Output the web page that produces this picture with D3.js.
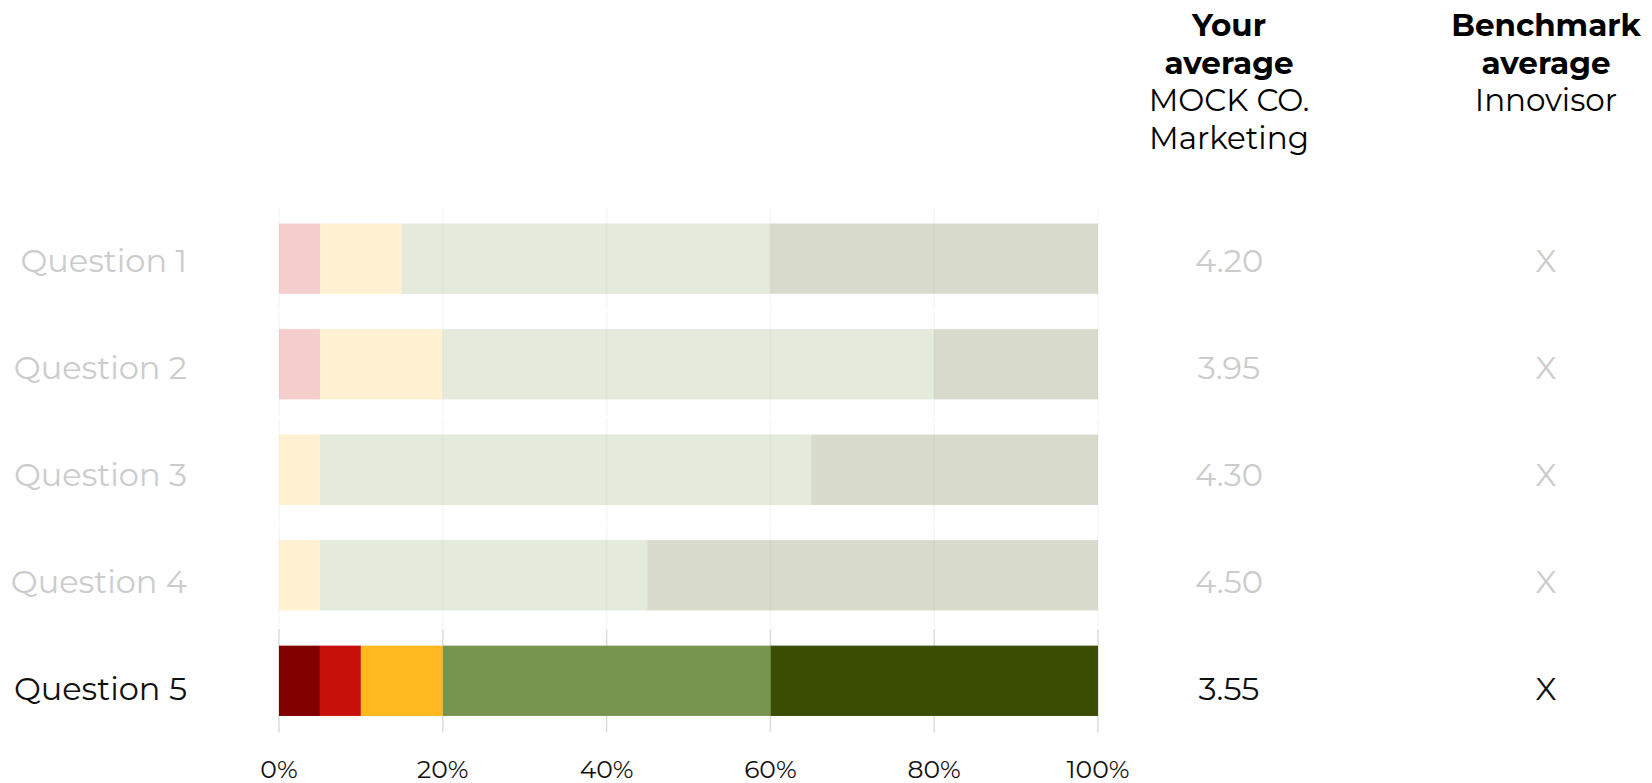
<!DOCTYPE html>
<html>
<head>
<meta charset="utf-8">
<script src="https://cdn.jsdelivr.net/npm/d3@7"></script>
<style>
  html, body { margin: 0; padding: 0; background: #fff; }
  svg { display: block; font-family: "Montserrat", "Inter", sans-serif; }
</style>
</head>
<body>
<svg id="chart"></svg>
<script>
// questions and answer shares (percent of respondents per rating)
const questions = ["Question 1", "Question 2", "Question 3", "Question 4", "Question 5"];
const ratings = ["1", "2", "3", "4", "5"];
const rating1 = [0, 0, 0, 0, 5];
const rating2 = [5, 5, 0, 0, 5];
const rating3 = [10, 15, 5, 5, 10];
const rating4 = [45, 60, 60, 40, 40];
const rating5 = [40, 20, 35, 55, 40];
const yourAverage = ["4.20", "3.95", "4.30", "4.50", "3.55"];
const benchmarkAverage = ["X", "X", "X", "X", "X"];
const xTicks = [0, 0.2, 0.4, 0.6, 0.8, 1];
const focus = "Question 5";

const palette = ["#800000", "#c8100a", "#ffb81f", "#78954f", "#3a4d02"];

const WIDTH = 1652;
const HEIGHT = 783;

const rows = questions.map((q, i) => ({
  question: q,
  "1": rating1[i], "2": rating2[i], "3": rating3[i], "4": rating4[i], "5": rating5[i],
  avg: yourAverage[i],
  bench: benchmarkAverage[i]
}));

const svg = d3.select("#chart")
  .attr("width", WIDTH)
  .attr("height", HEIGHT);

const x = d3.scaleLinear().domain([0, 1]).range([279, 1098]);
const y = d3.scaleBand().domain(questions).range([207, 732.5]).paddingInner(0.02);
// the table text sits on its own, slightly wider spaced rows
const yText = d3.scalePoint().domain(questions).range([260, 688]);
const barH = y.bandwidth() * 0.68;
const colAvg = 1229;
const colBench = 1546;

const faded = q => q !== focus;

// gridlines, one set per row
const grid = svg.append("g");
rows.forEach(r => {
  grid.append("g")
    .attr("opacity", faded(r.question) ? 0.22 : 1)
    .selectAll("line")
    .data(xTicks)
    .join("line")
    .attr("x1", d => x(d)).attr("x2", d => x(d))
    .attr("y1", y(r.question)).attr("y2", y(r.question) + y.bandwidth())
    .attr("stroke", "#dcdcdc")
    .attr("stroke-width", 1.5);
});

// stacked bars
const stack = d3.stack().keys(ratings);
const series = stack(rows);

svg.append("g")
  .selectAll("g")
  .data(series)
  .join("g")
  .attr("fill", (d, i) => palette[i])
  .selectAll("rect")
  .data(d => d)
  .join("rect")
  .attr("x", d => x(d[0] / 100))
  .attr("width", d => x(d[1] / 100) - x(d[0] / 100))
  .attr("y", d => y(d.data.question) + (y.bandwidth() - barH) / 2)
  .attr("height", barH)
  .attr("fill-opacity", d => faded(d.data.question) ? 0.2 : 1);

// row labels
const textColor = q => faded(q) ? "#cccccc" : "#111111";

svg.append("g")
  .selectAll("text")
  .data(rows)
  .join("text")
  .attr("x", 187)
  .attr("y", d => yText(d.question))
  .attr("dy", "0.36em")
  .attr("text-anchor", "end")
  .attr("font-size", 32)
  .attr("fill", d => textColor(d.question))
  .text(d => d.question);

// averages
svg.append("g")
  .selectAll("text")
  .data(rows)
  .join("text")
  .attr("x", colAvg)
  .attr("y", d => yText(d.question))
  .attr("dy", "0.36em")
  .attr("text-anchor", "middle")
  .attr("font-size", 32)
  .attr("fill", d => textColor(d.question))
  .text(d => d.avg);

svg.append("g")
  .selectAll("text")
  .data(rows)
  .join("text")
  .attr("x", colBench)
  .attr("y", d => yText(d.question))
  .attr("dy", "0.36em")
  .attr("text-anchor", "middle")
  .attr("font-size", 32)
  .attr("fill", d => textColor(d.question))
  .text(d => d.bench);

// x axis labels
svg.append("g")
  .selectAll("text")
  .data(xTicks)
  .join("text")
  .attr("x", d => x(d))
  .attr("y", 778)
  .attr("text-anchor", "middle")
  .attr("font-size", 25)
  .attr("fill", "#111")
  .text(d3.format(".0%"));

// column headers
function header(cx, lines) {
  const g = svg.append("g").attr("text-anchor", "middle").attr("fill", "#000");
  lines.forEach((l, i) => {
    g.append("text")
      .attr("x", cx)
      .attr("y", 36 + i * 37.5)
      .attr("font-size", 31)
      .attr("font-weight", l.bold ? 700 : 400)
      .text(l.t);
  });
}
header(colAvg, [{t: "Your", bold: true}, {t: "average", bold: true}, {t: "MOCK CO."}, {t: "Marketing"}]);
header(colBench, [{t: "Benchmark", bold: true}, {t: "average", bold: true}, {t: "Innovisor"}]);
</script>
</body>
</html>
